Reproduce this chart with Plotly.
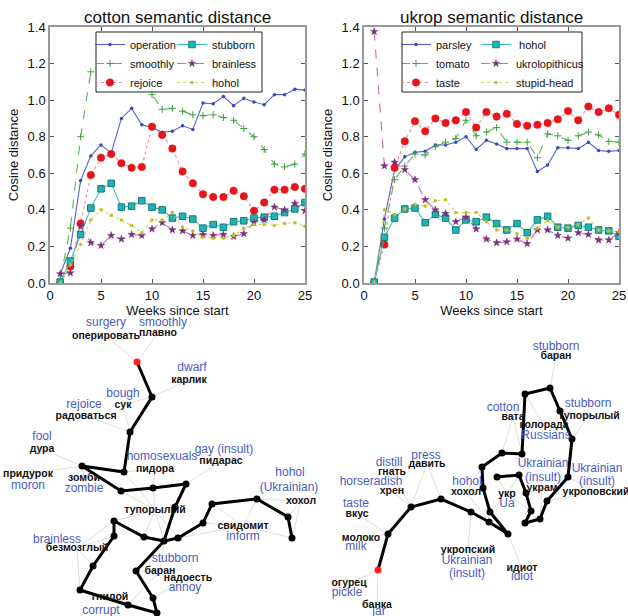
import plotly.graph_objects as go

# ---------------- line chart data ----------------
weeks = list(range(1, 26))

cotton_operation = [0.05, 0.19, 0.56, 0.695, 0.755, 0.71, 0.90, 0.955, 0.865, 0.85, 0.825, 0.83, 0.86,
                    0.84, 0.985, 0.98, 1.02, 0.97, 1.01, 0.99, 0.975, 1.03, 1.03, 1.06, 1.055]
cotton_smoothly = [0.02, 0.30, 0.80, 1.155, 1.20, 1.20, 1.15, 1.115, 1.095, 1.03, 0.95, 0.955, 0.94,
                   0.92, 0.915, 0.92, 0.905, 0.89, 0.845, 0.80, 0.73, 0.65, 0.635, 0.65, 0.705]
cotton_rejoice = [0.0, 0.09, 0.325, 0.59, 0.685, 0.705, 0.655, 0.63, 0.635, 0.855, 0.81, 0.735, 0.61,
                  0.545, 0.485, 0.47, 0.47, 0.505, 0.475, 0.395, 0.44, 0.51, 0.51, 0.525, 0.515]
cotton_stubborn = [0.005, 0.12, 0.265, 0.41, 0.515, 0.545, 0.415, 0.42, 0.45, 0.415, 0.40, 0.355, 0.365,
                   0.35, 0.30, 0.32, 0.305, 0.335, 0.34, 0.355, 0.36, 0.365, 0.385, 0.405, 0.44]
cotton_brainless = [0.05, 0.055, 0.31, 0.22, 0.205, 0.26, 0.24, 0.265, 0.26, 0.295, 0.33, 0.29, 0.285,
                    0.26, 0.265, 0.26, 0.265, 0.255, 0.27, 0.33, 0.345, 0.415, 0.40, 0.435, 0.395]
cotton_hohol = [0.0, 0.10, 0.21, 0.345, 0.40, 0.37, 0.345, 0.315, 0.275, 0.345, 0.345, 0.385, 0.305,
                0.285, 0.25, 0.245, 0.245, 0.26, 0.30, 0.32, 0.32, 0.315, 0.325, 0.33, 0.31]

ukrop_parsley = [0.0, 0.35, 0.62, 0.69, 0.715, 0.72, 0.755, 0.755, 0.77, 0.80, 0.73, 0.78, 0.76,
                 0.735, 0.735, 0.735, 0.61, 0.645, 0.74, 0.74, 0.735, 0.77, 0.725, 0.72, 0.725]
ukrop_tomato = [0.0, 0.30, 0.565, 0.64, 0.705, 0.70, 0.745, 0.77, 0.79, 0.89, 0.805, 0.825, 0.85,
                0.77, 0.77, 0.77, 0.685, 0.815, 0.805, 0.78, 0.805, 0.825, 0.81, 0.775, 0.77]
ukrop_taste = [0.0, 0.21, 0.63, 0.775, 0.885, 0.83, 0.90, 0.875, 0.89, 0.935, 0.85, 0.935, 0.91,
               0.925, 0.87, 0.86, 0.865, 0.875, 0.895, 0.94, 0.89, 0.965, 0.935, 0.955, 0.92]
ukrop_hohol = [0.005, 0.25, 0.355, 0.405, 0.41, 0.33, 0.375, 0.355, 0.29, 0.345, 0.335, 0.36, 0.325,
               0.29, 0.325, 0.275, 0.345, 0.365, 0.305, 0.30, 0.315, 0.305, 0.29, 0.285, 0.255]
ukrop_ukrolopithicus = [1.375, 0.64, 0.66, 0.62, 0.565, 0.455, 0.40, 0.38, 0.335, 0.36, 0.295, 0.24, 0.22,
                        0.225, 0.24, 0.215, 0.29, 0.29, 0.26, 0.245, 0.275, 0.265, 0.235, 0.235, 0.275]
ukrop_stupid_head = [0.0, 0.40, 0.375, 0.405, 0.43, 0.42, 0.45, 0.455, 0.385, 0.385, 0.385, 0.335, 0.29,
                     0.29, 0.27, 0.245, 0.30, 0.34, 0.305, 0.305, 0.32, 0.355, 0.29, 0.285, 0.28]

x_ticks = [0, 5, 10, 15, 20, 25]
y_ticks = [0.0, 0.2, 0.4, 0.6, 0.8, 1.0, 1.2, 1.4]

# ---------------- network data (layout coordinates) ----------------
left_node_x = [137, 152, 130, 124, 82, 121, 153, 186, 175, 164, 144, 114, 114, 93, 80, 128, 157, 153, 136,
               178, 203, 212, 257, 288, 292]
left_node_y = [362, 397, 432, 472, 466, 491, 488, 484, 507, 541, 537, 521, 536, 566, 590, 605, 613, 598, 571,
               538, 523, 504, 499, 517, 538]
left_path = [0, 1, 2, 3, 4, 5, 6, 7, 8, 9, 10, 11, 12, 13, 14, 15, 16, 17, 18, 9, 19, 20, 21, 22, 23, 24]

left_labels = ["surgery", "smoothly", "оперировать", "плавно", "dwarf", "карлик", "bough", "сук",
               "rejoice", "радоваться", "fool", "дура", "homosexuals", "пидора", "gay (insult)", "пидарас",
               "придурок", "moron", "зомби", "zombie", "hohol", "(Ukrainian)", "хохол", "тупорылый",
               "свидомит", "inform", "brainless", "безмозглый", "stubborn", "баран", "надоесть", "annoy",
               "гнилой", "corrupt"]
left_label_x = [106, 163, 106, 158, 192, 189, 123, 123, 84, 86, 42, 42, 162, 155, 224, 221, 28, 28, 84, 84,
                290, 289, 301, 155, 243, 243, 57, 77, 175, 160, 188, 185, 110, 101]
left_label_y = [323, 323, 336, 333, 368, 380, 394, 405, 405, 416, 437, 449, 457, 469, 450, 461, 474, 486,
                478, 489, 473, 488, 501, 510, 526, 537, 540, 548, 559, 571, 578, 588, 597, 611]
left_label_lang = ["en", "en", "ru", "ru", "en", "ru", "en", "ru", "en", "ru", "en", "ru", "en", "ru", "en",
                   "ru", "ru", "en", "ru", "en", "en", "en", "ru", "ru", "ru", "en", "en", "ru", "en", "ru",
                   "ru", "en", "ru", "en"]
left_links = [(0, 2), (0, 3), (1, 5), (1, 7), (2, 9), (2, 7), (4, 11), (4, 16), (4, 18), (3, 13), (3, 23),
              (5, 23), (6, 23), (6, 13), (7, 15), (8, 23), (11, 23), (10, 23), (9, 23), (19, 23), (11, 27),
              (12, 27), (13, 27), (14, 27), (14, 32), (15, 32), (16, 32), (17, 30), (18, 29), (15, 29),
              (9, 29), (20, 24), (21, 24), (19, 24), (22, 22), (23, 22), (24, 22), (24, 24), (22, 24)]

right_node_x = [378, 388, 411, 441, 471, 489, 508, 490, 483, 482, 502, 522, 525, 550, 560, 572, 568, 547,
                540, 525, 531, 526, 519, 497]
right_node_y = [570, 534, 507, 499, 512, 522, 534, 512, 488, 467, 453, 454, 394, 388, 411, 439, 477, 501,
                519, 523, 511, 493, 475, 477]
right_path = list(range(24))

right_labels = ["stubborn", "баран", "cotton", "вата", "stubborn", "тупорылый", "колорада", "Russians",
                "press", "давить", "distill", "гнать", "horseradish", "хрен", "hohol", "хохол", "Ukrainian",
                "(insult)", "укр", "Ua", "украм", "Ukrainian", "(insult)", "укроповский", "taste", "вкус",
                "молоко", "milk", "укропский", "Ukrainian", "(insult)", "идиот", "idiot", "огурец", "pickle",
                "банка", "jar"]
right_label_x = [556, 556, 503, 513, 588, 589, 544, 546, 426, 427, 389, 392, 371, 392, 467, 466, 543, 543,
                 507, 507, 542, 597, 597, 596, 356, 357, 361, 356, 468, 467, 467, 522, 522, 349, 347, 377, 379]
right_label_y = [347, 356, 408, 417, 404, 416, 425, 436, 456, 464, 463, 472, 482, 491, 482, 492, 464, 478,
                 494, 504, 488, 469, 482, 492, 504, 514, 538, 547, 550, 561, 574, 568, 577, 583, 593, 605, 612]
right_label_lang = ["en", "ru", "en", "ru", "en", "ru", "ru", "en", "en", "ru", "en", "ru", "en", "ru", "en",
                    "ru", "en", "en", "ru", "en", "ru", "en", "en", "ru", "en", "ru", "ru", "en", "ru", "en",
                    "en", "ru", "en", "ru", "en", "ru", "en"]
right_links = [(0, 33), (0, 35), (1, 26), (1, 25), (2, 13), (2, 11), (2, 9), (3, 9), (4, 28), (5, 15),
               (6, 31), (8, 15), (9, 15), (10, 3), (11, 3), (12, 3), (13, 1), (14, 5), (15, 5), (16, 23),
               (17, 23), (18, 20), (20, 18), (21, 20), (22, 18), (23, 18), (7, 18), (12, 6), (15, 6)]

# ---------------- styling ----------------
FONT = "Liberation Sans, Arial, sans-serif"
W, H = 628, 616
BLUE_TXT = "#4a5cbd"

series_style = [
    dict(color="rgba(40,60,190,0.8)", dash="solid", symbol="circle", size=3.5, mcolor="#3848b8", mline="#3848b8", mw=0),
    dict(color="rgba(50,160,50,0.8)", dash="dash", symbol="cross-thin", size=5, mcolor="#3aa03a", mline="#3aa03a", mw=1),
    dict(color="rgba(240,110,110,0.8)", dash="dot", symbol="circle", size=7.5, mcolor="#e8141c", mline="#e8141c", mw=0.5),
    dict(color="rgba(40,185,185,0.9)", dash="solid", symbol="square", size=6.5, mcolor="#22b4b4", mline="#137a7a", mw=1),
    dict(color="rgba(175,70,175,0.8)", dash="dash", symbol="star", size=5.5, mcolor="#7a2f7a", mline="#7a2f7a", mw=0.5),
    dict(color="rgba(200,200,40,0.8)", dash="dot", symbol="circle", size=3.5, mcolor="#c0c020", mline="#c0c020", mw=0),
]

fig = go.Figure()


def add_series(names, values, xa, ya, legends):
    for i, (nm, vals) in enumerate(zip(names, values)):
        s = series_style[i]
        fig.add_trace(go.Scatter(
            x=weeks, y=vals, name=nm, mode="lines+markers",
            line=dict(color=s["color"], dash=s["dash"], width=1.1),
            marker=dict(symbol=s["symbol"], size=s["size"], color=s["mcolor"],
                        line=dict(color=s["mline"], width=s["mw"])),
            xaxis=xa, yaxis=ya, legend=legends[i // 3], hoverinfo="skip"))


add_series(["operation", "smoothly", "rejoice", "stubborn", "brainless", "hohol"],
           [cotton_operation, cotton_smoothly, cotton_rejoice, cotton_stubborn, cotton_brainless, cotton_hohol],
           "x", "y", ["legend", "legend2"])
add_series(["parsley", "tomato", "taste", " hohol", "ukrolopithicus", "stupid-head"],
           [ukrop_parsley, ukrop_tomato, ukrop_taste, ukrop_hohol, ukrop_ukrolopithicus, ukrop_stupid_head],
           "x2", "y2", ["legend3", "legend4"])


def add_network(nx, ny, path, lx, ly, labels, lang, links):
    gx, gy = [], []
    for n, l in links:
        gx += [nx[n], lx[l], None]
        gy += [ny[n], ly[l], None]
    fig.add_trace(go.Scatter(x=gx, y=gy, mode="lines", line=dict(color="#dedede", width=1),
                             xaxis="x3", yaxis="y3", showlegend=False, hoverinfo="skip"))
    fig.add_trace(go.Scatter(x=[nx[i] for i in path], y=[ny[i] for i in path], mode="lines",
                             line=dict(color="black", width=3), xaxis="x3", yaxis="y3",
                             showlegend=False, hoverinfo="skip"))
    fig.add_trace(go.Scatter(x=nx[1:], y=ny[1:], mode="markers",
                             marker=dict(color="black", size=7), xaxis="x3", yaxis="y3",
                             showlegend=False, hoverinfo="skip"))
    fig.add_trace(go.Scatter(x=nx[:1], y=ny[:1], mode="markers",
                             marker=dict(color="#ff2020", size=7), xaxis="x3", yaxis="y3",
                             showlegend=False, hoverinfo="skip"))
    for kind, col, size, weight in [("en", BLUE_TXT, 12, "normal"), ("ru", "#111111", 10.5, "bold")]:
        idx = [i for i, g in enumerate(lang) if g == kind]
        fig.add_trace(go.Scatter(
            x=[lx[i] for i in idx], y=[ly[i] for i in idx], text=[labels[i] for i in idx],
            mode="text", textposition="middle center",
            textfont=dict(family=FONT, size=size, color=col, weight=weight),
            xaxis="x3", yaxis="y3", showlegend=False, hoverinfo="skip", cliponaxis=False))


add_network(left_node_x, left_node_y, left_path, left_label_x, left_label_y, left_labels,
            left_label_lang, left_links)
add_network(right_node_x, right_node_y, right_path, right_label_x, right_label_y, right_labels,
            right_label_lang, right_links)


def px_x(v):
    return v / W


def px_y(v):
    return 1 - v / H


axis_common = dict(showline=True, linecolor="#9a9a9a", linewidth=1.5, mirror="ticks",
                   ticks="inside", ticklen=4, tickcolor="#555555", tickwidth=1,
                   showgrid=False, zeroline=False, automargin=False,
                   tickfont=dict(family=FONT, size=13, color="#111111"))

fig.update_layout(
    width=W, height=H, margin=dict(l=0, r=0, t=0, b=0, autoexpand=False),
    paper_bgcolor="white", plot_bgcolor="white",
    font=dict(family=FONT, color="#111111"),
    xaxis=dict(domain=[px_x(50), px_x(305)], range=[0, 25], tickvals=x_ticks, anchor="y",
               title=dict(text="Weeks since start", font=dict(size=13), standoff=3), **axis_common),
    yaxis=dict(domain=[px_y(283), px_y(27)], range=[0, 1.4], tickvals=y_ticks, tickformat=".1f", anchor="x",
               title=dict(text="Cosine distance", font=dict(size=13), standoff=6), **axis_common),
    xaxis2=dict(domain=[px_x(364), px_x(619)], range=[0, 25], tickvals=x_ticks, anchor="y2",
                title=dict(text="Weeks since start", font=dict(size=13), standoff=3), **axis_common),
    yaxis2=dict(domain=[px_y(283), px_y(27)], range=[0, 1.4], tickvals=y_ticks, tickformat=".1f", anchor="x2",
                title=dict(text="Cosine distance", font=dict(size=13), standoff=6), **axis_common),
    xaxis3=dict(domain=[0, 1], range=[0, W], visible=False, anchor="y3", automargin=False),
    yaxis3=dict(domain=[0, px_y(312)], range=[H, 312], visible=False, anchor="x3", automargin=False),
)

legend_common = dict(bgcolor="rgba(0,0,0,0)", borderwidth=0, font=dict(family=FONT, size=11, color="#111111"),
                     xanchor="left", yanchor="top", itemwidth=30, tracegroupgap=0, itemclick=False)
fig.update_layout(
    legend=dict(x=px_x(90), y=px_y(30), **legend_common),
    legend2=dict(x=px_x(172), y=px_y(30), **legend_common),
    legend3=dict(x=px_x(396), y=px_y(30), **legend_common),
    legend4=dict(x=px_x(476), y=px_y(30), **legend_common),
)

# legend frames
for x0, x1 in [(96, 262), (402, 582)]:
    fig.add_shape(type="rect", xref="paper", yref="paper", x0=px_x(x0), x1=px_x(x1),
                  y0=px_y(92), y1=px_y(32), line=dict(color="#222222", width=1),
                  fillcolor="white", layer="above")

# titles
for cx, t in [(177.5, "cotton semantic distance"), (491.5, "ukrop semantic distance")]:
    fig.add_annotation(x=px_x(cx), y=px_y(17), xref="paper", yref="paper", text=t, showarrow=False,
                       xanchor="center", yanchor="middle", font=dict(family=FONT, size=17, color="#111111"))

fig.write_html("out.html", config={"displayModeBar": False},
               post_script="document.body.style.margin='0';document.body.style.overflow='hidden';")
